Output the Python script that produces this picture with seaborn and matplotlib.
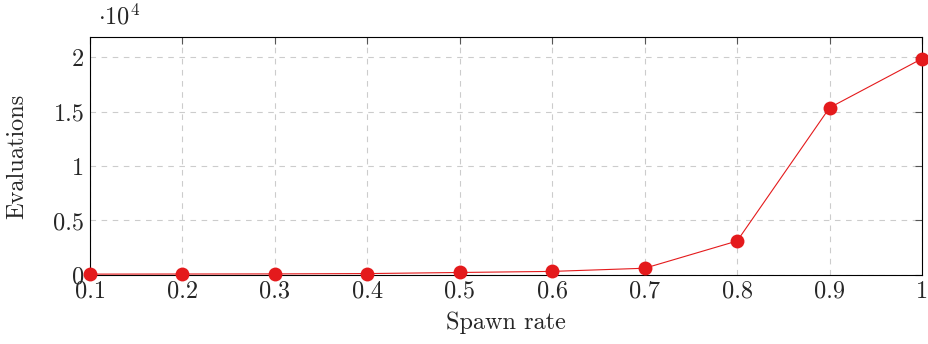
import numpy as np
import pandas as pd
import matplotlib
matplotlib.use("Agg")
import matplotlib.pyplot as plt
import seaborn as sns
from matplotlib.ticker import FuncFormatter

spawn_rate = [0.1, 0.2, 0.3, 0.4, 0.5, 0.6, 0.7, 0.8, 0.9, 1.0]
evaluations = [80, 90, 100, 130, 230, 330, 620, 3120, 15350, 19850]
x_ticks = [0.1, 0.2, 0.3, 0.4, 0.5, 0.6, 0.7, 0.8, 0.9, 1.0]
y_ticks = [0, 5000, 10000, 15000, 20000]

df = pd.DataFrame({"Spawn rate": spawn_rate, "Evaluations": evaluations})

sns.set_style("white")
plt.rcParams["font.family"] = ["cmr10", "DejaVu Serif"]
plt.rcParams["mathtext.fontset"] = "cm"
plt.rcParams["axes.unicode_minus"] = False
plt.rcParams["axes.formatter.use_mathtext"] = True

fig = plt.figure(figsize=(9.29, 3.44), dpi=100)
ax = fig.add_axes([0.0969, 0.2006, 0.8956, 0.6918])

sns.lineplot(data=df, x="Spawn rate", y="Evaluations", ax=ax,
             color="#E41A1C", marker="o", markersize=10, linewidth=0.8,
             markeredgewidth=0, zorder=3, clip_on=False)

ax.set_xlim(0.1, 1.0)
ax.set_ylim(0, 21835)
ax.set_xticks(x_ticks)
ax.set_yticks(y_ticks)
ax.xaxis.set_major_formatter(FuncFormatter(lambda v, p: f"{v:g}"))
ax.yaxis.set_major_formatter(FuncFormatter(lambda v, p: f"{v / 1e4:g}"))

ax.grid(True, color="#cccccc", linestyle=(0, (5, 5)), linewidth=0.8)
ax.tick_params(direction="in", length=5, width=0.8, color="#555555",
               top=True, right=True, labelsize=17.5, pad=4)
for s in ax.spines.values():
    s.set_color("black")
    s.set_linewidth(0.8)

ax.set_xlabel("Spawn rate", fontsize=17.5, labelpad=6)
ax.set_ylabel("Evaluations", fontsize=17.5, labelpad=18)
ax.text(0.01, 1.03, r"$\cdot10^4$", transform=ax.transAxes, fontsize=17.5,
        ha="left", va="bottom")

fig.savefig("out.png", dpi=100)
